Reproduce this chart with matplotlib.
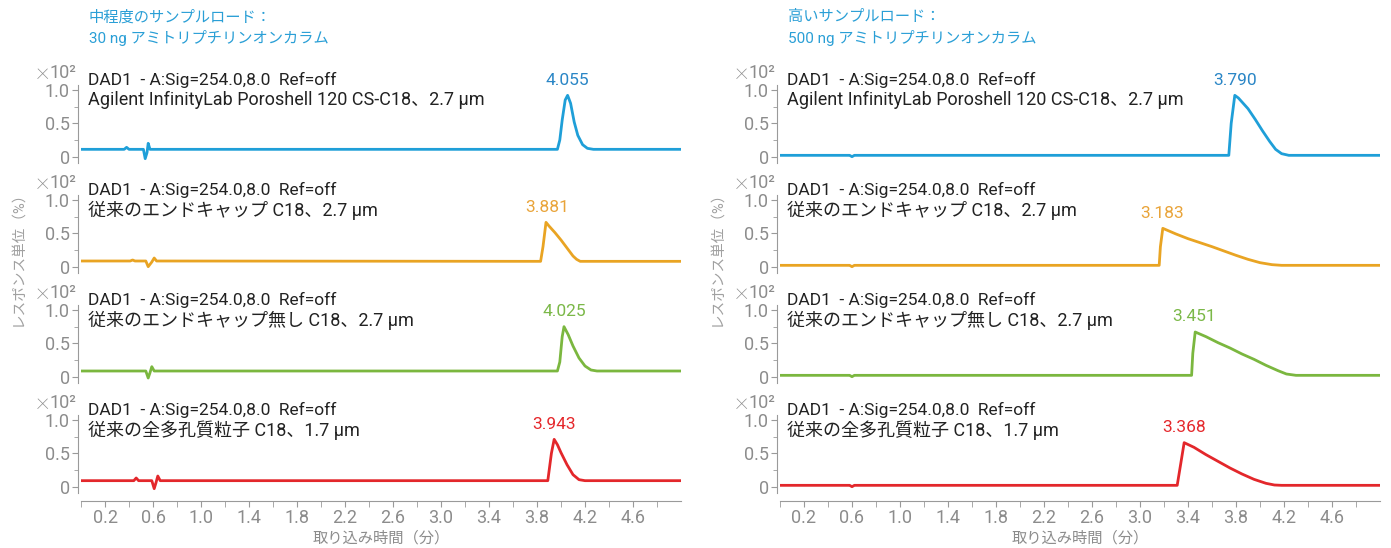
import matplotlib
matplotlib.use("Agg")
import matplotlib.pyplot as plt
from matplotlib.ticker import FixedLocator, FixedFormatter

plt.rcParams['font.family'] = ['Roboto', 'Noto Sans CJK JP', 'DejaVu Sans']

# ---------------- data ----------------
panel_titles = ["中程度のサンプルロード：\n30 ng アミトリプチリンオンカラム",
                "高いサンプルロード：\n500 ng アミトリプチリンオンカラム"]
column_names = ["Agilent InfinityLab Poroshell 120 CS-C18、2.7 µm",
                "従来のエンドキャップ C18、2.7 µm",
                "従来のエンドキャップ無し C18、2.7 µm",
                "従来の全多孔質粒子 C18、1.7 µm"]
signal_text = "DAD1  - A:Sig=254.0,8.0  Ref=off"
series_colors = ["#1f9fd8", "#e9a423", "#7bb73f", "#e3272b"]
label_colors = ["#2a86c6", "#e9a43a", "#7bb848", "#e5282c"]

# left panel (30 ng) retention times and traces
left_peak_times = [4.055, 3.881, 4.025, 3.943]
left_peak_labels = ["4.055", "3.881", "4.025", "3.943"]
left_peak_heights = [0.92, 0.665, 0.75, 0.71]

L1_t = [0.0, 0.36, 0.38, 0.40, 0.52, 0.535, 0.55, 0.56, 0.575, 0.60, 3.97, 3.99, 4.01, 4.035, 4.055,
        4.08, 4.11, 4.14, 4.18, 4.22, 4.27, 5.0]
L1_y = [0.11, 0.11, 0.14, 0.11, 0.11, -0.03, 0.06, 0.20, 0.11, 0.11, 0.11, 0.25, 0.55, 0.85, 0.92,
        0.80, 0.52, 0.32, 0.18, 0.125, 0.11, 0.11]

L2_t = [0.0, 0.41, 0.43, 0.45, 0.54, 0.56, 0.59, 0.61, 0.63, 3.83, 3.85, 3.875, 3.90, 3.95, 4.00,
        4.05, 4.10, 4.13, 4.16, 5.0]
L2_y = [0.085, 0.085, 0.10, 0.085, 0.085, 0.0, 0.07, 0.13, 0.085, 0.08, 0.30, 0.665, 0.61, 0.51,
        0.40, 0.28, 0.16, 0.11, 0.08, 0.08]

L3_t = [0.0, 0.54, 0.56, 0.575, 0.59, 0.61, 3.97, 3.99, 4.01, 4.025, 4.06, 4.10, 4.15, 4.20, 4.25,
        4.30, 5.0]
L3_y = [0.085, 0.085, -0.02, 0.06, 0.15, 0.085, 0.085, 0.22, 0.60, 0.75, 0.63, 0.46, 0.28, 0.16,
        0.10, 0.085, 0.085]

L4_t = [0.0, 0.44, 0.46, 0.48, 0.59, 0.61, 0.625, 0.64, 0.66, 3.89, 3.92, 3.943, 3.97, 4.00, 4.05,
        4.10, 4.15, 4.20, 5.0]
L4_y = [0.09, 0.09, 0.13, 0.09, 0.09, -0.03, 0.06, 0.16, 0.09, 0.09, 0.50, 0.71, 0.63, 0.51, 0.33,
        0.18, 0.105, 0.09, 0.09]

# right panel (500 ng)
right_peak_times = [3.790, 3.183, 3.451, 3.368]
right_peak_labels = ["3.790", "3.183", "3.451", "3.368"]
right_peak_heights = [0.92, 0.575, 0.67, 0.66]

R1_t = [0.0, 0.58, 0.60, 0.62, 3.74, 3.76, 3.79, 3.82, 3.90, 3.96, 4.02, 4.08, 4.13, 4.18, 4.24, 5.0]
R1_y = [0.02, 0.02, 0.0, 0.02, 0.02, 0.50, 0.92, 0.88, 0.72, 0.56, 0.39, 0.23, 0.11, 0.045, 0.02, 0.02]

R2_t = [0.0, 0.58, 0.60, 0.62, 3.16, 3.17, 3.19, 3.30, 3.40, 3.50, 3.60, 3.70, 3.80, 3.90, 4.00,
        4.10, 4.18, 5.0]
R2_y = [0.02, 0.02, 0.0, 0.02, 0.02, 0.30, 0.575, 0.49, 0.42, 0.36, 0.30, 0.235, 0.17, 0.11, 0.06,
        0.03, 0.02, 0.02]

R3_t = [0.0, 0.58, 0.60, 0.62, 3.43, 3.44, 3.46, 3.55, 3.65, 3.75, 3.85, 3.95, 4.05, 4.15, 4.22,
        4.30, 5.0]
R3_y = [0.02, 0.02, 0.0, 0.02, 0.02, 0.35, 0.67, 0.60, 0.51, 0.43, 0.34, 0.26, 0.17, 0.09, 0.04,
        0.02, 0.02]

R4_t = [0.0, 0.58, 0.60, 0.62, 3.31, 3.34, 3.368, 3.45, 3.55, 3.65, 3.75, 3.85, 3.95, 4.05, 4.12,
        4.18, 5.0]
R4_y = [0.02, 0.02, 0.0, 0.02, 0.02, 0.35, 0.66, 0.59, 0.48, 0.38, 0.28, 0.19, 0.11, 0.05, 0.025,
        0.02, 0.02]

x_major = [0.2, 0.6, 1.0, 1.4, 1.8, 2.2, 2.6, 3.0, 3.4, 3.8, 4.2, 4.6]
x_minor = [0.0, 0.4, 0.8, 1.2, 1.6, 2.0, 2.4, 2.8, 3.2, 3.6, 4.0, 4.4, 4.8]
y_major = [0, 0.5, 1.0]
y_major_labels = ["0", "0.5", "1.0"]
y_minor = [0.25, 0.75]
x_label = "取り込み時間（分）"
y_label = "レスポンス単位（%）"
scale_mult = "×"
scale_pow = "10²"

# ---------------- drawing ----------------
W, H = 1391, 548
fig = plt.figure(figsize=(W / 100, H / 100), dpi=100)
fig.patch.set_facecolor("white")

def fx(px):
    return px / W

def fy(py):
    return 1 - py / H

gray = "#8c8c8c"
spine_gray = "#9a9a9a"
dark = "#222222"

panels = [
    ([(L1_t, L1_y), (L2_t, L2_y), (L3_t, L3_y), (L4_t, L4_y)],
     left_peak_times, left_peak_labels, left_peak_heights),
    ([(R1_t, R1_y), (R2_t, R2_y), (R3_t, R3_y), (R4_t, R4_y)],
     right_peak_times, right_peak_labels, right_peak_heights),
]

for p, (traces, ptimes, plabels, pheights) in enumerate(panels):
    left_px = 81 + 699 * p
    width_px = 600
    for r in range(4):
        top_px = 85 + 110 * r
        bot_px = 163 + 110 * r
        ax = fig.add_axes([fx(left_px), fy(bot_px), width_px / W, (bot_px - top_px) / H])
        ax.set_facecolor("none")
        t, y = traces[r]
        ax.plot(t, y, color=series_colors[r], lw=2.0, solid_joinstyle="round")
        ax.set_xlim(0, 5.0)
        ax.set_ylim(-0.095, 1.075)
        for s in ["top", "right"]:
            ax.spines[s].set_visible(False)
        ax.spines["left"].set_position(("outward", 2))
        ax.spines["left"].set_color(spine_gray)
        ax.yaxis.set_major_locator(FixedLocator(y_major))
        ax.yaxis.set_major_formatter(FixedFormatter(y_major_labels))
        ax.yaxis.set_minor_locator(FixedLocator(y_minor))
        ax.tick_params(axis="y", which="major", length=4, color=spine_gray,
                       labelcolor=gray, labelsize=13, pad=2)
        ax.tick_params(axis="y", which="minor", length=3, color=spine_gray)
        ax.xaxis.set_major_locator(FixedLocator(x_major))
        ax.xaxis.set_minor_locator(FixedLocator(x_minor))
        if r == 3:
            ax.spines["bottom"].set_position(("outward", 6))
            ax.spines["bottom"].set_color(spine_gray)
            ax.xaxis.set_major_formatter(FixedFormatter([f"{v:.1f}" for v in x_major]))
            ax.tick_params(axis="x", which="both", length=4, color=spine_gray,
                           labelcolor=gray, labelsize=13, pad=1.5)
        else:
            ax.spines["bottom"].set_visible(False)
            ax.tick_params(axis="x", which="both", length=0, labelbottom=False)
        # peak label
        ax.annotate(plabels[r], xy=(ptimes[r], pheights[r]), xytext=(0, 11),
                    textcoords="offset points", ha="center", va="center",
                    color=label_colors[r], fontsize=12.5)
        # texts
        fig.text(fx(76 + 699 * p), fy(73 + 110 * r), scale_pow, ha="right", va="center",
                 color=gray, fontsize=13)
        fig.text(fx(49 + 699 * p), fy(72 + 110 * r), scale_mult, ha="right", va="center",
                 color=gray, fontsize=19, fontweight="light")
        fig.text(fx(88 + 699 * p), fy(80 + 110 * r), signal_text, ha="left", va="center",
                 color=dark, fontsize=12.5)
        fig.text(fx(88 + 699 * p), fy(100 + 110 * r), column_names[r], ha="left", va="center",
                 color=dark, fontsize=13)

    fig.text(fx(89 + 699 * p), fy(28), panel_titles[p], ha="left", va="center",
             color="#2a9fd6", fontsize=11, linespacing=1.4)
    fig.text(fx(381 + 699 * p), fy(538), x_label, ha="center", va="center",
             color=gray, fontsize=11)
    fig.text(fx(17 + 699 * p), fy(255), y_label, ha="center", va="center",
             rotation=90, color="#a0a0a0", fontsize=10.5)

fig.savefig("out.png", dpi=100, facecolor="white")
